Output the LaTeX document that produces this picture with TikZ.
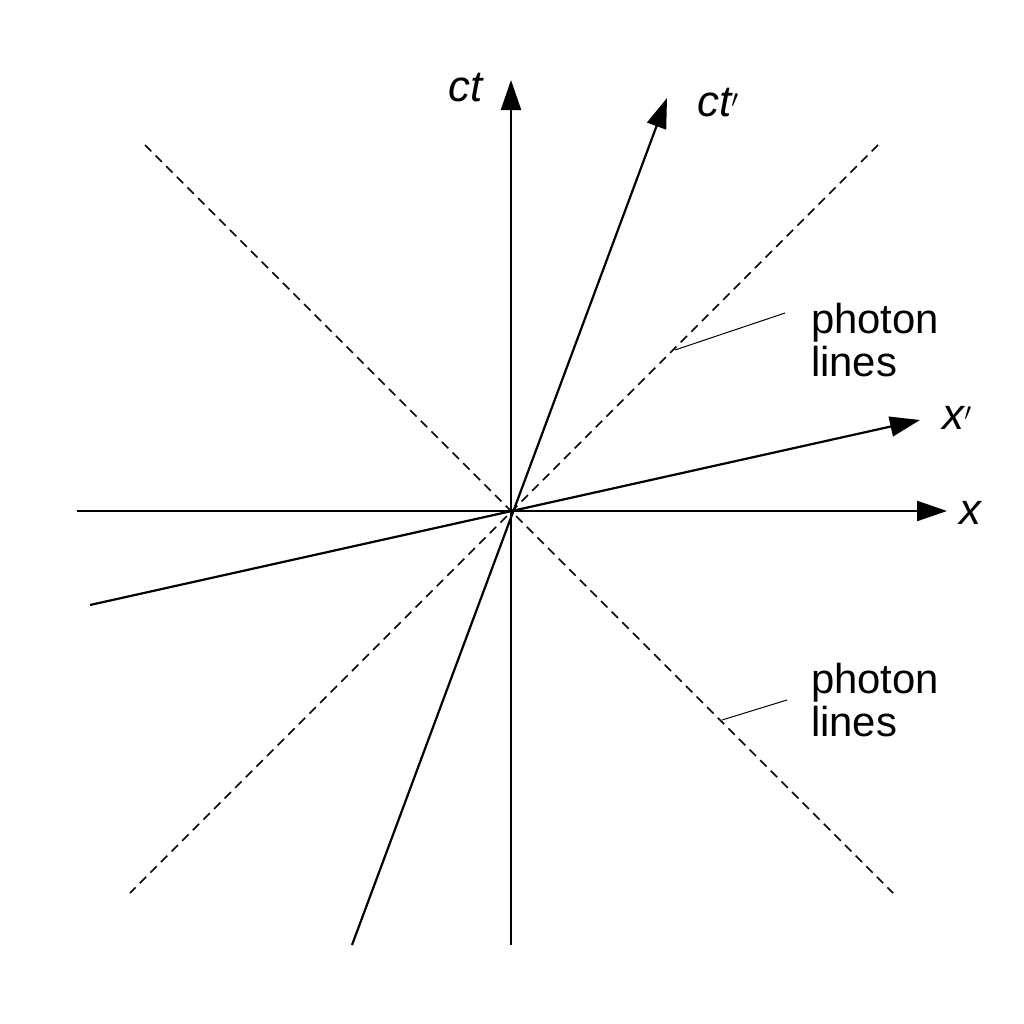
\documentclass[tikz,border=0pt]{standalone}
\usepackage{fontspec}
\setmainfont{Liberation Sans}
\usetikzlibrary{arrows.meta}
\begin{document}
\begin{tikzpicture}[x=1bp,y=-1bp,
  ax/.style={line width=2.2bp,-{Triangle[length=30bp,width=20bp]}},
  ln/.style={line width=2.2bp},
  ph/.style={line width=1.6bp,dash pattern=on 9bp off 6bp},
  lead/.style={line width=1bp},
  lab/.style={font=\fontsize{44}{44}\selectfont\itshape},
  txt/.style={font=\fontsize{42}{44}\selectfont,align=left}]
\useasboundingbox (0,0) rectangle (1024,1024);
\coordinate (o) at (511,511);
\coordinate (t0) at (511,945); \coordinate (t1) at (511,80);
\coordinate (tp0) at (352,945); \coordinate (tp1) at (667,98);
\coordinate (x0) at (77,511); \coordinate (x1) at (947,511);
\coordinate (xp0) at (90,605); \coordinate (xp1) at (920,420);
\coordinate (p1a) at (145,145); \coordinate (p1b) at (893,893);
\coordinate (p2a) at (878,145); \coordinate (p2b) at (130,893);
\draw[ph] (p1a) -- (p1b);
\draw[ph] (p2a) -- (p2b);
\draw[ax] (t0) -- (t1);
\draw[ax] (tp0) -- (tp1);
\draw[ax] (x0) -- (x1);
\draw[ax] (xp0) -- (xp1);
\node[lab] (ct) at (466,88) {ct};
\node[lab] (ctp) at (718,103) {ct$'$};
\node[lab] (xl) at (970,513) {x};
\node[lab] (xpl) at (957,418) {x$'$};
\node[txt] (ph1) at (875,340) {photon\\lines};
\node[txt] (ph2) at (875,700) {photon\\lines};
\coordinate (l1) at (675,350); \coordinate (l2) at (722,720);
\draw[lead] (ph1.west |- 0,313) ++(0,0) coordinate (e1);
\draw[lead] (785,313) -- (l1);
\draw[lead] (787,700) -- (l2);
\end{tikzpicture}
\end{document}
